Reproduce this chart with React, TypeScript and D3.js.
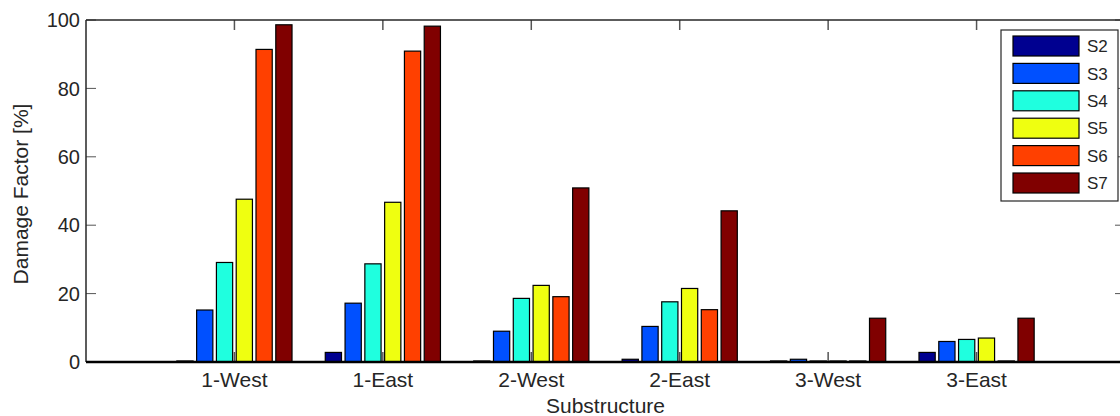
import React from "react";
import * as d3 from "d3";

const categories = ["1-West", "1-East", "2-West", "2-East", "3-West", "3-East"];
const seriesNames = ["S2", "S3", "S4", "S5", "S6", "S7"];
const seriesColors = ["#000090", "#0050FF", "#1FFFDF", "#EFFF10", "#FF4000", "#800000"];
const S2 = [0.3, 2.8, 0.3, 0.8, 0.3, 2.8];
const S3 = [15.2, 17.2, 9.0, 10.4, 0.8, 6.0];
const S4 = [29.1, 28.7, 18.6, 17.6, 0.3, 6.6];
const S5 = [47.6, 46.7, 22.4, 21.5, 0.3, 7.0];
const S6 = [91.4, 90.9, 19.1, 15.3, 0.3, 0.3];
const S7 = [98.6, 98.2, 50.9, 44.2, 12.8, 12.8];
const seriesValues = [S2, S3, S4, S5, S6, S7];
const yTicks = [0, 20, 40, 60, 80, 100];

const W = 1120;
const H = 416;
const left = 86;
const right = 1125;
const top = 20;
const bottom = 362;

export default function App() {
  const x = d3.scaleLinear().domain([0, 7]).range([left, right]);
  const y = d3.scaleLinear().domain([0, 100]).range([bottom, top]);
  const step = x(1) - x(0);
  const slot = (step * 0.8) / seriesNames.length;
  const barW = slot * 0.82;
  const font = "'Liberation Sans', Arial, Helvetica, sans-serif";
  const axisColor = "#262626";
  const tickLen = 10;

  return (
    <svg
      width={W}
      height={H}
      style={{ position: "absolute", left: 0, top: 0, background: "#fff" }}
      fontFamily={font}
    >
      <rect x={0} y={0} width={W} height={H} fill="#fff" />
      {categories.map((c, i) => (
        <g key={"xt" + c}>
          <line x1={x(i + 1)} x2={x(i + 1)} y1={bottom} y2={bottom - tickLen} stroke="#555" strokeWidth={1.5} />
          <line x1={x(i + 1)} x2={x(i + 1)} y1={top} y2={top + tickLen} stroke="#555" strokeWidth={1.5} />
        </g>
      ))}
      {yTicks.map((t) => (
        <g key={"yt" + t}>
          <line x1={left} x2={left + tickLen} y1={y(t)} y2={y(t)} stroke="#555" strokeWidth={1} />
          <line x1={right} x2={right - tickLen} y1={y(t)} y2={y(t)} stroke="#555" strokeWidth={1} />
        </g>
      ))}
      {seriesValues.map((vals, s) =>
        vals.map((v, i) => {
          const cx = x(i + 1) + (s - (seriesNames.length - 1) / 2) * slot;
          const y0 = y(0);
          const y1 = y(v);
          return (
            <rect
              key={`b${s}-${i}`}
              x={cx - barW / 2}
              y={y1}
              width={barW}
              height={Math.max(0.5, y0 - y1)}
              fill={seriesColors[s]}
              stroke="#000"
              strokeWidth={1.2}
            />
          );
        })
      )}
      <line x1={left} x2={right} y1={top} y2={top} stroke={axisColor} strokeWidth={1.5} />
      <line x1={left} x2={left} y1={top} y2={bottom} stroke={axisColor} strokeWidth={1.5} />
      <line x1={right} x2={right} y1={top} y2={bottom} stroke={axisColor} strokeWidth={1.5} />
      <line x1={left} x2={right} y1={bottom} y2={bottom} stroke="#000" strokeWidth={2.5} />
      {yTicks.map((t) => (
        <text key={"yl" + t} x={80} y={y(t)} dy="0.36em" textAnchor="end" fontSize={20} fill="#262626">
          {t}
        </text>
      ))}
      {categories.map((c, i) => (
        <text key={"xl" + c} x={x(i + 1)} y={387} textAnchor="middle" fontSize={21} fill="#262626">
          {c}
        </text>
      ))}
      <text x={(x(3) + x(4)) / 2} y={413} textAnchor="middle" fontSize={21} fill="#262626">
        Substructure
      </text>
      <text
        transform={`translate(28,194) rotate(-90)`}
        textAnchor="middle"
        fontSize={21}
        fill="#262626"
      >
        Damage Factor [%]
      </text>
      <g>
        <rect x={1001} y={30} width={117} height={171} fill="#fff" stroke="#262626" strokeWidth={1.2} />
        {seriesNames.map((n, s) => {
          const cy = 46 + s * 27.4;
          return (
            <g key={"lg" + n}>
              <rect x={1013} y={cy - 10} width={66} height={20} fill={seriesColors[s]} stroke="#000" strokeWidth={1.2} />
              <text x={1087} y={cy} dy="0.36em" fontSize={17} fill="#262626">
                {n}
              </text>
            </g>
          );
        })}
      </g>
    </svg>
  );
}
